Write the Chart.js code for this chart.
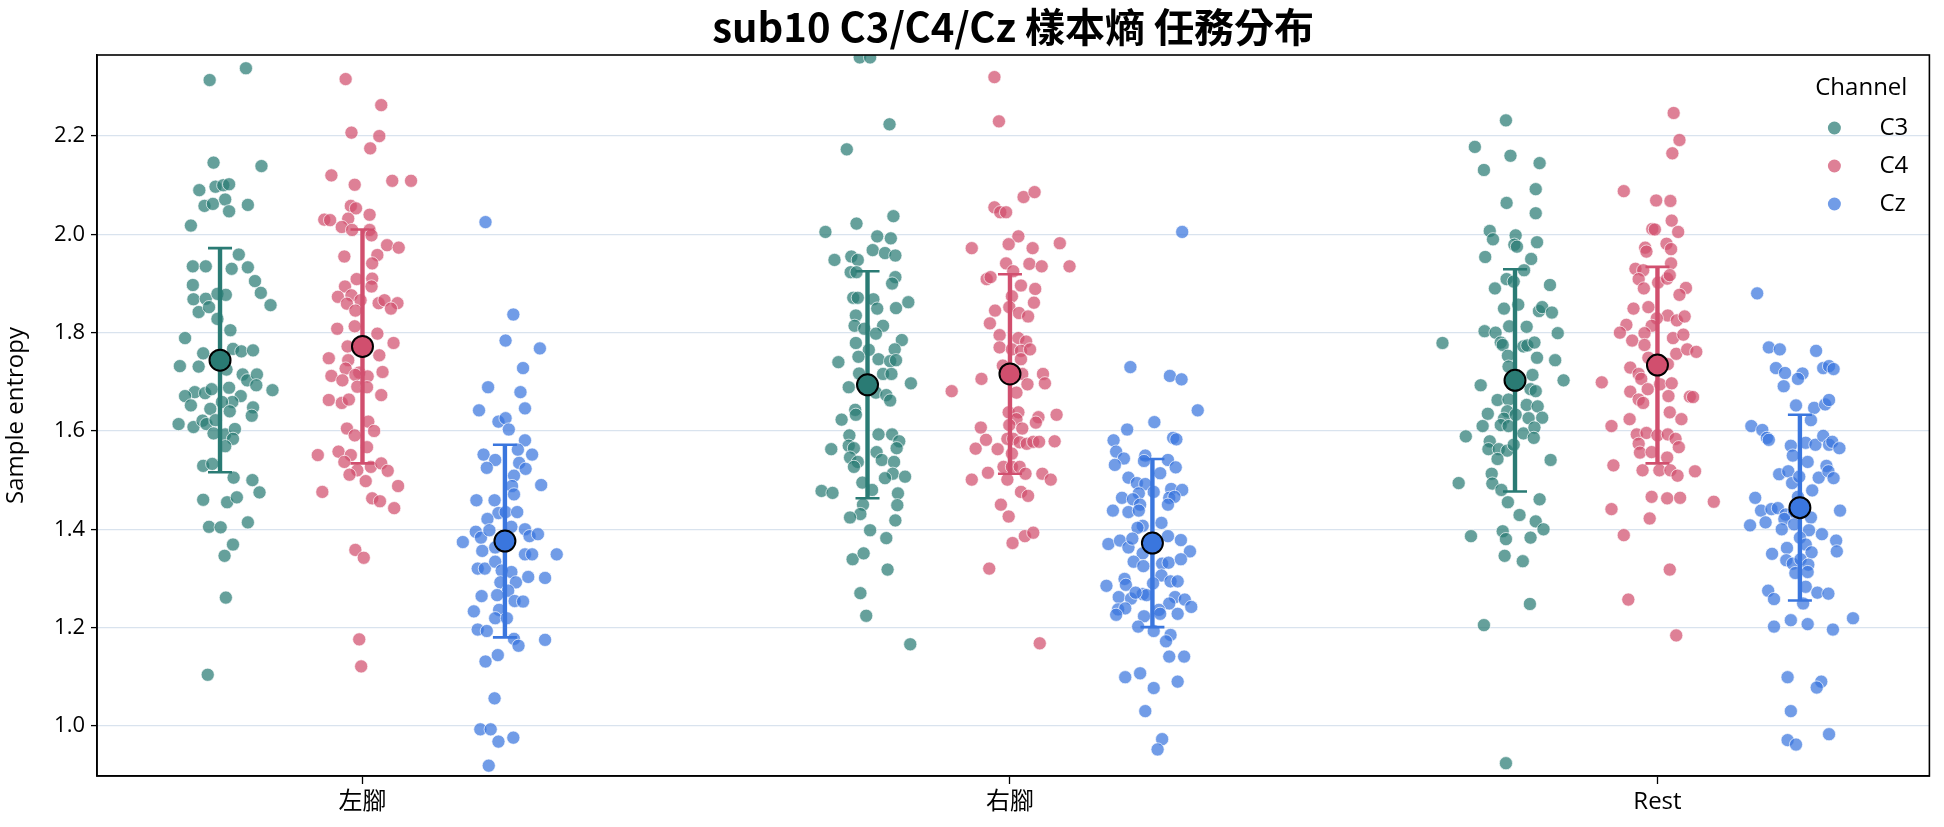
<!DOCTYPE html>
<html>
<head>
<meta charset="utf-8">
<script src="https://cdn.jsdelivr.net/npm/chart.js@4.4.1/dist/chart.umd.min.js"></script>
<style>
  html, body { margin: 0; padding: 0; background: #fff; }
  #wrap { width: 1944px; height: 827px; }
</style>
</head>
<body>
<div id="wrap"><canvas id="grafico" width="1944" height="827"></canvas></div>
<script>
// Sample entropy por tarea y canal: puntos individuales, media y desviación.

const categorias = ["左腳", "右腳", "Rest"];
const canales = ["C3", "C4", "Cz"];
const yTicks = [1.0, 1.2, 1.4, 1.6, 1.8, 2.0, 2.2];

// Media y desviación por canal (orden: 左腳, 右腳, Rest).
const mediaC3 = [1.744, 1.694, 1.703];
const sdC3 = [0.228, 0.231, 0.226];
const mediaC4 = [1.772, 1.716, 1.734];
const sdC4 = [0.238, 0.203, 0.200];
const mediaCz = [1.376, 1.372, 1.444];
const sdCz = [0.196, 0.171, 0.189];

// Puntos por grupo: [valor, jitter horizontal].
const c3Izq = [[2.338,0.040],[2.314,-0.016],[2.146,-0.010],[2.139,0.064],[2.090,-0.032],[2.097,-0.007],[2.100,0.005],[2.102,0.014],[2.058,-0.024],[2.062,-0.011],[2.071,0.008],[2.047,0.014],[2.060,0.043],[2.018,-0.045],[1.959,0.029],[1.935,-0.042],[1.935,-0.022],[1.930,0.018],[1.933,0.043],[1.905,0.054],[1.897,-0.042],[1.881,0.063],[1.868,-0.041],[1.869,-0.022],[1.879,-0.004],[1.877,0.009],[1.842,-0.033],[1.852,-0.017],[1.856,0.078],[1.828,-0.004],[1.805,0.016],[1.789,-0.054],[1.758,-0.026],[1.767,0.020],[1.762,0.033],[1.764,0.051],[1.732,-0.062],[1.731,-0.033],[1.725,0.010],[1.715,0.035],[1.703,0.042],[1.715,0.057],[1.693,0.056],[1.683,0.081],[1.679,-0.039],[1.671,-0.054],[1.652,-0.045],[1.677,-0.023],[1.685,-0.013],[1.688,0.014],[1.671,0.032],[1.659,0.019],[1.659,0.003],[1.645,-0.015],[1.640,0.015],[1.648,0.051],[1.614,-0.064],[1.608,-0.041],[1.621,-0.027],[1.614,-0.021],[1.622,-0.007],[1.631,0.049],[1.595,-0.010],[1.593,0.008],[1.604,0.023],[1.584,0.020],[1.569,0.008],[1.529,-0.026],[1.533,-0.012],[1.505,0.021],[1.500,0.050],[1.475,0.061],[1.460,-0.026],[1.455,0.011],[1.465,0.026],[1.405,-0.017],[1.404,0.001],[1.414,0.043],[1.369,0.020],[1.346,0.007],[1.261,0.009],[1.104,-0.019]];
const c4Izq = [[2.316,-0.026],[2.263,0.029],[2.207,-0.017],[2.200,0.026],[2.175,0.012],[2.120,-0.048],[2.101,-0.012],[2.109,0.046],[2.109,0.075],[2.058,-0.018],[2.053,-0.010],[2.040,0.011],[2.030,-0.059],[2.029,-0.050],[2.032,-0.022],[2.015,-0.032],[2.009,-0.016],[2.009,0.011],[1.998,0.014],[1.978,0.038],[1.973,0.056],[1.958,0.023],[1.955,-0.028],[1.941,0.015],[1.909,-0.009],[1.910,0.015],[1.894,-0.027],[1.894,0.014],[1.873,-0.038],[1.876,-0.017],[1.866,-0.003],[1.859,-0.024],[1.860,0.025],[1.866,0.034],[1.860,0.054],[1.849,0.044],[1.845,-0.011],[1.808,-0.039],[1.813,-0.012],[1.798,0.023],[1.779,0.048],[1.772,-0.023],[1.754,0.026],[1.748,-0.052],[1.744,-0.022],[1.727,-0.026],[1.719,-0.005],[1.720,0.031],[1.712,-0.048],[1.703,-0.031],[1.714,-0.011],[1.711,0.008],[1.690,-0.008],[1.689,0.007],[1.663,-0.052],[1.657,-0.032],[1.664,-0.021],[1.673,0.029],[1.619,0.009],[1.605,-0.024],[1.591,-0.012],[1.600,0.018],[1.567,0.007],[1.551,-0.069],[1.558,-0.037],[1.551,-0.018],[1.537,-0.028],[1.520,-0.008],[1.527,0.013],[1.534,0.029],[1.519,0.039],[1.511,-0.020],[1.498,0.005],[1.488,0.055],[1.476,-0.062],[1.463,0.015],[1.457,0.027],[1.443,0.049],[1.358,-0.011],[1.342,0.002],[1.176,-0.005],[1.121,-0.002]];
const czIzq = [[2.025,-0.030],[1.837,0.013],[1.784,0.001],[1.768,0.054],[1.728,0.028],[1.689,-0.026],[1.679,0.024],[1.642,-0.040],[1.646,0.031],[1.619,-0.010],[1.626,0.001],[1.603,0.006],[1.581,0.031],[1.552,-0.033],[1.541,-0.015],[1.562,0.020],[1.552,0.042],[1.525,-0.028],[1.535,0.022],[1.523,0.032],[1.509,0.014],[1.488,0.011],[1.490,0.056],[1.471,0.014],[1.459,-0.044],[1.459,-0.016],[1.433,-0.010],[1.421,-0.027],[1.435,0.001],[1.435,0.019],[1.395,-0.045],[1.383,-0.037],[1.398,-0.024],[1.405,0.010],[1.400,0.031],[1.386,0.038],[1.390,0.051],[1.374,-0.065],[1.356,-0.035],[1.363,-0.015],[1.349,0.031],[1.349,0.042],[1.349,0.080],[1.320,-0.042],[1.320,-0.031],[1.334,-0.015],[1.316,-0.005],[1.313,0.010],[1.292,0.017],[1.303,0.036],[1.301,0.062],[1.292,-0.007],[1.275,0.005],[1.264,-0.036],[1.266,-0.012],[1.254,0.015],[1.253,0.028],[1.233,-0.048],[1.236,-0.009],[1.219,-0.015],[1.219,0.003],[1.196,-0.042],[1.193,-0.028],[1.177,0.014],[1.163,0.021],[1.175,0.062],[1.131,-0.030],[1.144,-0.011],[1.056,-0.016],[0.993,-0.038],[0.993,-0.022],[0.968,-0.010],[0.976,0.013],[0.919,-0.025]];
const c3Der = [[2.360,-0.012],[2.360,0.004],[2.224,0.034],[2.173,-0.032],[2.037,0.040],[2.022,-0.017],[2.005,-0.065],[1.996,0.015],[1.992,0.036],[1.968,0.008],[1.962,0.027],[1.957,0.043],[1.948,-0.051],[1.955,-0.025],[1.948,-0.015],[1.923,-0.026],[1.923,-0.017],[1.913,0.043],[1.900,0.038],[1.862,0.063],[1.871,-0.022],[1.871,-0.015],[1.868,0.009],[1.849,0.015],[1.850,0.044],[1.835,-0.018],[1.814,-0.020],[1.808,-0.005],[1.814,0.024],[1.798,0.013],[1.785,0.053],[1.779,-0.018],[1.765,0.002],[1.766,0.042],[1.740,-0.045],[1.751,-0.014],[1.746,0.017],[1.742,0.035],[1.744,0.044],[1.717,-0.013],[1.716,0.024],[1.716,0.037],[1.689,-0.029],[1.697,0.067],[1.678,0.013],[1.673,0.029],[1.662,0.035],[1.643,-0.019],[1.633,-0.018],[1.623,-0.040],[1.591,-0.028],[1.593,0.017],[1.593,0.038],[1.579,0.049],[1.563,-0.056],[1.570,-0.029],[1.565,-0.021],[1.557,0.014],[1.565,0.045],[1.546,-0.027],[1.537,-0.015],[1.527,-0.021],[1.541,0.022],[1.537,0.041],[1.513,0.039],[1.504,0.027],[1.507,0.058],[1.495,-0.008],[1.480,0.007],[1.478,-0.071],[1.474,-0.054],[1.473,0.047],[1.450,-0.007],[1.449,0.046],[1.431,-0.011],[1.424,-0.027],[1.418,0.043],[1.398,0.004],[1.382,0.029],[1.339,-0.023],[1.351,-0.006],[1.318,0.031],[1.270,-0.011],[1.224,-0.002],[1.166,0.066]];
const c4Der = [[2.320,-0.024],[2.230,-0.017],[2.076,0.021],[2.086,0.038],[2.055,-0.024],[2.045,-0.015],[2.045,-0.006],[1.996,0.013],[1.972,-0.059],[1.980,-0.002],[1.972,0.035],[1.982,0.077],[1.941,-0.006],[1.940,0.030],[1.935,0.049],[1.935,0.092],[1.909,-0.036],[1.913,-0.030],[1.925,0.005],[1.896,0.017],[1.889,0.039],[1.874,0.003],[1.861,0.037],[1.845,-0.023],[1.852,-0.001],[1.840,0.014],[1.833,0.028],[1.819,-0.031],[1.795,-0.016],[1.789,0.013],[1.782,0.025],[1.770,-0.016],[1.766,0.003],[1.763,0.017],[1.766,0.031],[1.746,0.017],[1.733,-0.011],[1.706,-0.044],[1.716,0.019],[1.716,0.051],[1.695,0.027],[1.697,0.054],[1.678,0.010],[1.681,-0.090],[1.638,-0.002],[1.638,0.013],[1.628,0.044],[1.633,0.072],[1.624,0.010],[1.617,0.040],[1.607,-0.045],[1.612,-0.001],[1.605,0.019],[1.582,-0.037],[1.584,-0.004],[1.584,0.005],[1.577,0.015],[1.574,0.026],[1.578,0.036],[1.578,0.045],[1.579,0.069],[1.564,-0.053],[1.563,-0.019],[1.554,0.003],[1.527,-0.010],[1.527,0.003],[1.527,0.015],[1.501,-0.059],[1.515,-0.034],[1.501,-0.004],[1.513,0.024],[1.513,0.050],[1.501,0.063],[1.476,0.017],[1.468,0.028],[1.450,-0.014],[1.426,-0.002],[1.386,0.023],[1.393,0.036],[1.372,0.004],[1.320,-0.032],[1.168,0.046]];
const czDer = [[2.005,0.046],[1.730,-0.034],[1.712,0.027],[1.705,0.045],[1.642,0.070],[1.618,0.003],[1.603,-0.039],[1.581,-0.060],[1.586,0.032],[1.583,0.037],[1.558,-0.056],[1.544,-0.044],[1.531,-0.058],[1.550,-0.011],[1.539,-0.013],[1.541,0.024],[1.526,0.036],[1.514,0.012],[1.505,-0.037],[1.494,-0.024],[1.492,-0.011],[1.473,-0.021],[1.476,0.002],[1.482,0.029],[1.480,0.046],[1.464,-0.047],[1.461,-0.030],[1.464,0.026],[1.466,0.034],[1.450,-0.019],[1.450,0.024],[1.438,-0.061],[1.435,-0.037],[1.438,-0.021],[1.407,-0.015],[1.403,-0.023],[1.413,0.014],[1.386,0.024],[1.370,-0.068],[1.377,-0.050],[1.363,-0.037],[1.381,-0.031],[1.378,0.044],[1.355,0.058],[1.351,-0.015],[1.334,-0.029],[1.325,-0.014],[1.330,0.015],[1.332,0.025],[1.339,0.044],[1.306,0.014],[1.290,0.001],[1.294,0.028],[1.294,0.039],[1.285,-0.071],[1.299,-0.043],[1.287,-0.041],[1.268,-0.015],[1.266,-0.009],[1.262,-0.052],[1.259,-0.033],[1.271,-0.026],[1.262,0.035],[1.257,0.050],[1.242,0.060],[1.237,-0.053],[1.239,-0.042],[1.249,0.026],[1.236,0.010],[1.226,-0.056],[1.223,-0.013],[1.228,0.012],[1.228,0.039],[1.202,-0.022],[1.193,0.002],[1.185,0.028],[1.172,0.021],[1.141,0.026],[1.141,0.049],[1.099,-0.042],[1.107,-0.019],[1.077,0.002],[1.090,0.039],[1.030,-0.011],[0.973,0.015],[0.952,0.008]];
const c3Rest = [[2.232,-0.014],[2.178,-0.062],[2.160,-0.007],[2.145,0.038],[2.131,-0.048],[2.092,0.032],[2.064,-0.013],[2.043,0.032],[2.007,-0.039],[1.990,-0.034],[1.998,0.001],[1.979,-0.001],[1.975,0.003],[1.984,0.034],[1.954,-0.046],[1.950,0.025],[1.927,0.014],[1.909,-0.013],[1.904,-0.002],[1.897,0.054],[1.890,-0.031],[1.857,0.005],[1.849,-0.017],[1.844,0.037],[1.852,0.042],[1.841,0.057],[1.803,-0.047],[1.813,-0.009],[1.812,0.018],[1.799,0.066],[1.800,-0.030],[1.779,-0.112],[1.780,-0.022],[1.775,-0.019],[1.772,0.013],[1.774,0.019],[1.780,0.030],[1.753,-0.011],[1.749,0.034],[1.744,0.062],[1.731,-0.010],[1.714,0.027],[1.703,0.075],[1.693,-0.053],[1.685,0.024],[1.681,0.032],[1.663,-0.027],[1.664,-0.010],[1.653,0.018],[1.650,0.035],[1.635,-0.042],[1.640,-0.012],[1.625,-0.017],[1.633,0.001],[1.626,0.021],[1.627,0.042],[1.610,-0.050],[1.612,-0.022],[1.610,-0.010],[1.595,0.013],[1.607,0.030],[1.586,0.029],[1.589,-0.076],[1.579,-0.039],[1.563,-0.041],[1.563,-0.025],[1.560,-0.012],[1.572,-0.002],[1.543,-0.027],[1.541,0.055],[1.513,-0.036],[1.494,-0.087],[1.493,-0.035],[1.480,-0.021],[1.455,-0.011],[1.461,0.038],[1.429,0.007],[1.416,0.032],[1.400,0.044],[1.386,-0.068],[1.396,-0.019],[1.380,-0.014],[1.383,0.024],[1.346,-0.016],[1.335,0.012],[1.248,0.023],[1.205,-0.048],[0.924,-0.014]];
const c4Rest = [[2.247,0.025],[2.192,0.034],[2.165,0.023],[2.088,-0.052],[2.069,-0.002],[2.068,0.020],[2.028,0.022],[2.011,-0.008],[2.010,-0.004],[2.005,0.032],[1.973,-0.019],[1.965,-0.017],[1.981,0.014],[1.970,0.021],[1.941,0.021],[1.930,-0.034],[1.927,-0.022],[1.909,-0.029],[1.890,-0.021],[1.902,0.001],[1.910,0.015],[1.917,0.019],[1.891,0.044],[1.877,0.034],[1.849,-0.037],[1.852,-0.014],[1.835,0.016],[1.825,0.030],[1.833,0.042],[1.829,-0.001],[1.814,-0.009],[1.816,-0.048],[1.800,-0.058],[1.784,-0.039],[1.799,-0.020],[1.775,-0.020],[1.789,0.024],[1.796,0.040],[1.757,0.029],[1.766,0.046],[1.761,0.060],[1.749,-0.014],[1.736,0.016],[1.729,-0.042],[1.716,-0.029],[1.706,-0.025],[1.699,-0.086],[1.695,0.004],[1.697,0.022],[1.685,-0.015],[1.680,-0.042],[1.664,-0.029],[1.657,-0.022],[1.671,0.017],[1.670,0.050],[1.669,0.055],[1.638,0.019],[1.624,-0.043],[1.624,0.037],[1.610,-0.071],[1.593,-0.032],[1.596,-0.017],[1.591,0.000],[1.593,0.016],[1.584,0.028],[1.567,0.033],[1.574,-0.029],[1.556,-0.027],[1.557,-0.009],[1.546,0.015],[1.530,-0.068],[1.520,-0.023],[1.520,0.003],[1.520,0.020],[1.509,0.031],[1.518,0.058],[1.466,-0.009],[1.463,0.015],[1.464,0.035],[1.456,0.087],[1.441,-0.071],[1.422,-0.012],[1.388,-0.052],[1.318,0.019],[1.257,-0.045],[1.184,0.029]];
const czRest = [[1.880,-0.066],[1.770,-0.048],[1.766,-0.031],[1.763,0.025],[1.728,-0.037],[1.718,-0.023],[1.717,0.004],[1.706,-0.003],[1.691,-0.025],[1.728,0.036],[1.732,0.045],[1.726,0.052],[1.652,-0.006],[1.647,0.022],[1.654,0.039],[1.663,0.045],[1.622,0.017],[1.610,-0.075],[1.602,-0.058],[1.586,-0.051],[1.582,-0.048],[1.570,-0.014],[1.576,0.009],[1.572,0.024],[1.590,0.036],[1.572,0.045],[1.578,0.050],[1.565,0.061],[1.550,-0.011],[1.537,0.012],[1.529,0.041],[1.512,-0.032],[1.518,-0.018],[1.505,0.029],[1.518,0.044],[1.504,0.052],[1.494,-0.012],[1.507,-0.001],[1.479,0.019],[1.464,-0.069],[1.466,-0.003],[1.438,-0.060],[1.441,-0.044],[1.443,-0.034],[1.430,-0.022],[1.435,-0.009],[1.438,0.062],[1.414,-0.053],[1.421,-0.024],[1.424,0.017],[1.408,-0.077],[1.400,-0.028],[1.410,-0.009],[1.398,0.014],[1.390,0.034],[1.383,0.000],[1.377,0.056],[1.355,0.057],[1.350,-0.043],[1.362,-0.020],[1.369,0.009],[1.353,0.018],[1.337,-0.021],[1.330,-0.011],[1.339,0.001],[1.328,0.013],[1.311,-0.007],[1.313,0.012],[1.283,0.009],[1.275,-0.049],[1.258,-0.040],[1.249,0.005],[1.271,0.027],[1.269,0.044],[1.202,-0.040],[1.215,-0.014],[1.207,0.012],[1.196,0.051],[1.219,0.082],[1.099,-0.019],[1.090,0.033],[1.078,0.026],[1.030,-0.014],[0.971,-0.019],[0.962,-0.006],[0.983,0.045]];

// Desplazamiento de cada canal dentro de la categoría (dodge).
const DESPLAZ = { C3: -0.22, C4: 0, Cz: 0.22 };

const COLORES = {
  C3: { solido: "#2a7b74", punto: "rgba(42,123,116,0.72)" },
  C4: { solido: "#d14f6e", punto: "rgba(209,79,110,0.72)" },
  Cz: { solido: "#3a76de", punto: "rgba(58,118,222,0.72)" },
};

const FUENTE = '"Open Sans", "Noto Sans CJK TC", sans-serif';
const FUENTE_TITULO = '"Noto Sans CJK TC", "Noto Sans", sans-serif';

const gruposPorCanal = {
  C3: [c3Izq, c3Der, c3Rest],
  C4: [c4Izq, c4Der, c4Rest],
  Cz: [czIzq, czDer, czRest],
};
const mediasPorCanal = { C3: mediaC3, C4: mediaC4, Cz: mediaCz };
const sdPorCanal = { C3: sdC3, C4: sdC4, Cz: sdCz };

// Puntos dispersos de un canal en coordenadas de datos.
function puntosCanal(canal) {
  const out = [];
  gruposPorCanal[canal].forEach((grupo, i) => {
    for (const [v, j] of grupo) out.push({ x: i + DESPLAZ[canal] + j, y: v });
  });
  return out;
}

// Barras de error (media ± sd) separadas por huecos.
function barrasCanal(canal) {
  const out = [];
  mediasPorCanal[canal].forEach((m, i) => {
    const x = i + DESPLAZ[canal];
    const s = sdPorCanal[canal][i];
    out.push({ x, y: m - s }, { x, y: m + s }, { x, y: null });
  });
  return out;
}

function mediasCanal(canal) {
  return mediasPorCanal[canal].map((m, i) => ({ x: i + DESPLAZ[canal], y: m }));
}

const datasets = [];
canales.forEach((c, k) => {
  datasets.push({
    type: "scatter",
    label: c,
    data: puntosCanal(c),
    backgroundColor: COLORES[c].punto,
    borderColor: "rgba(255,255,255,0.85)",
    borderWidth: 0.8,
    pointRadius: 6.6,
    order: 4 - k,
  });
});
canales.forEach((c) => {
  datasets.push({
    type: "line",
    label: c + "_sd",
    data: barrasCanal(c),
    borderColor: COLORES[c].solido,
    borderWidth: 4.4,
    spanGaps: false,
    tension: 0,
    pointStyle: "line",
    pointRadius: 12,
    pointBorderWidth: 2.6,
    pointBorderColor: COLORES[c].solido,
    order: 1,
  });
  datasets.push({
    type: "scatter",
    label: c + "_media",
    data: mediasCanal(c),
    backgroundColor: COLORES[c].solido,
    borderColor: "#000",
    borderWidth: 2,
    pointRadius: 10.5,
    order: 0,
  });
});

// Marco completo y leyenda dentro del área del gráfico.
const marcoYLeyenda = {
  id: "marcoYLeyenda",
  afterDraw(chart) {
    const { ctx, chartArea: a } = chart;
    ctx.save();
    ctx.strokeStyle = "#000";
    ctx.lineWidth = 1.6;
    ctx.strokeRect(a.left, a.top, a.right - a.left, a.bottom - a.top);

    ctx.fillStyle = "#000";
    ctx.font = `24px ${FUENTE}`;
    ctx.textBaseline = "middle";
    ctx.textAlign = "right";
    ctx.fillText("Channel", a.right - 22, a.top + 33);
    canales.forEach((c, i) => {
      const y = a.top + 73 + i * 38;
      ctx.beginPath();
      ctx.arc(a.right - 95, y, 6.5, 0, Math.PI * 2);
      ctx.fillStyle = COLORES[c].punto;
      ctx.fill();
      ctx.fillStyle = "#000";
      ctx.textAlign = "left";
      ctx.fillText(c, a.right - 50, y);
    });
    ctx.restore();
  },
};

new Chart(document.getElementById("grafico"), {
  data: { datasets },
  options: {
    responsive: false,
    animation: false,
    events: [],
    layout: { padding: { top: 1, right: 12, left: 0, bottom: 0 } },
    plugins: {
      legend: { display: false },
      tooltip: { enabled: false },
      title: {
        display: true,
        fullSize: false,
        text: "sub10 C3/C4/Cz 樣本熵 任務分布",
        color: "#000",
        font: { family: FUENTE_TITULO, size: 40, weight: "bold" },
        padding: { top: 2, bottom: 4 },
      },
    },
    scales: {
      x: {
        type: "linear",
        min: -0.41,
        max: 2.42,
        afterBuildTicks: (s) => { s.ticks = categorias.map((_, i) => ({ value: i })); },
        afterFit: (s) => { s.height = 51; },
        ticks: {
          autoSkip: false,
          maxRotation: 0,
          color: "#000",
          padding: 4,
          font: { family: FUENTE, size: 24 },
          callback: (v) => categorias[v],
        },
        grid: { drawOnChartArea: false, drawTicks: true, tickLength: 8, tickColor: "#000", tickWidth: 1.3 },
        border: { display: true, color: "#000", width: 1.6 },
      },
      y: {
        type: "linear",
        min: 0.898,
        max: 2.365,
        afterBuildTicks: (s) => { s.ticks = yTicks.map((v) => ({ value: v })); },
        afterFit: (s) => { s.width = 97; },
        ticks: {
          color: "#000",
          padding: 6,
          font: { family: FUENTE, size: 22 },
          callback: (v) => v.toFixed(1),
        },
        grid: { color: "#d9e3ee", lineWidth: 1.2, drawTicks: true, tickLength: 6, tickColor: "#000", tickWidth: 1.3 },
        border: { display: true, color: "#000", width: 1.6 },
        title: {
          display: true,
          text: "Sample entropy",
          color: "#000",
          font: { family: FUENTE, size: 24 },
          padding: { top: 2, bottom: 0 },
        },
      },
    },
  },
  plugins: [marcoYLeyenda],
});
</script>
</body>
</html>
